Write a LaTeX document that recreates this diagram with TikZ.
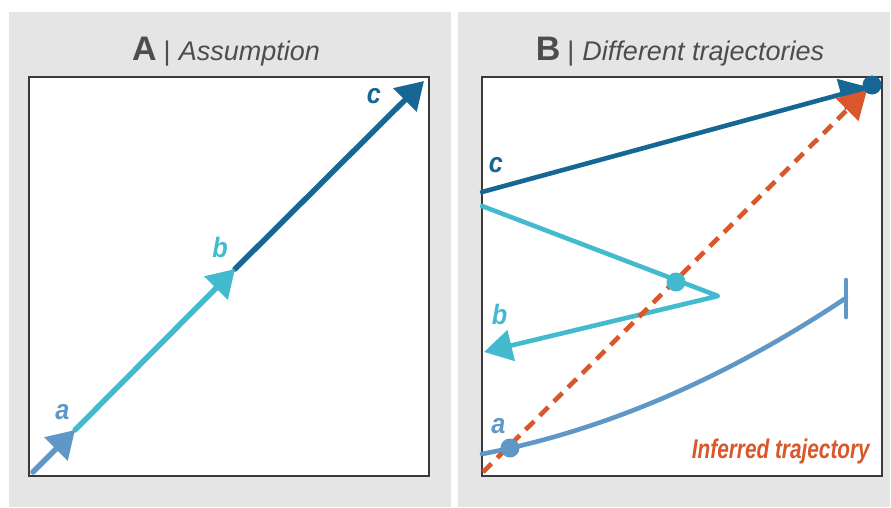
\documentclass[tikz,border=0pt]{standalone}
\usepackage{fontspec}
\setmainfont{Liberation Sans}
\newfontfamily\lblfont[FakeStretch=0.9]{Liberation Sans}
\newfontfamily\inffont[FakeStretch=0.77]{Liberation Sans}
\usetikzlibrary{arrows.meta}
\definecolor{ca}{HTML}{5F98C6}
\definecolor{cb}{HTML}{44BACF}
\definecolor{cc}{HTML}{166794}
\definecolor{cr}{HTML}{D9572A}
\definecolor{bgc}{HTML}{E5E5E5}
\definecolor{tt}{HTML}{4D4D4D}
\definecolor{framec}{HTML}{3A3A3A}
\begin{document}
\begin{tikzpicture}[x=1pt,y=-1pt,
  panelbox/.style={draw=framec,fill=white,line width=1.2pt},
  titletext/.style={anchor=base,text=tt,inner sep=0pt},
  lbl/.style={anchor=base,inner sep=0pt,font=\lblfont\bfseries\itshape\fontsize{28}{28}\selectfont},
  lineA/.style={line width=5.5pt,line cap=round},
  lineB/.style={line width=4.6pt,line cap=round,line join=round},
  tipA/.style={-{Triangle[length=27pt,width=32pt]}},
  tipB/.style={-{Triangle[length=28pt,width=31pt]}},
  dotstyle/.style={circle,inner sep=0pt,minimum size=19pt}
]
\useasboundingbox (0,0) rectangle (891,507);
\fill[white] (0,0) rectangle (891,507);
\fill[bgc] (9,12) rectangle (451,507);
\fill[bgc] (458,12) rectangle (890,507);
\draw[panelbox] (29,77) rectangle (429,476);
\draw[panelbox] (482,77) rectangle (882,476);

% titles
\node[titletext] (titleA) at (226,60) {{\bfseries\fontsize{34}{34}\selectfont A}\hspace{7pt}{\fontsize{27}{27}\selectfont |\hspace{8pt}\itshape Assumption}};
\node[titletext] (titleB) at (680,60) {{\bfseries\fontsize{34}{34}\selectfont B}\hspace{7pt}{\fontsize{27}{27}\selectfont |\hspace{8pt}\itshape Different trajectories}};

% panel A
\coordinate (a0) at (33,472);
\coordinate (a1) at (75,430);
\coordinate (b1) at (235,269);
\coordinate (c1) at (424,81);
\draw[lineA,cc,tipA] (b1) -- (c1);
\draw[lineA,cb,tipA] (a1) -- (b1);
\draw[lineA,ca,tipA] (a0) -- (a1);
\node[lbl,text=ca] (la) at (62.5,419) {a};
\node[lbl,text=cb] (lb) at (220,257) {b};
\node[lbl,text=cc] (lc) at (374,103) {c};

% panel B
\coordinate (as) at (482,454);
\coordinate (ae) at (846,298);
\coordinate (abt) at (846,280);
\coordinate (abb) at (846,317);
\draw[lineB,ca] (as) .. controls (603.3,430.9) and (724.7,378.9) .. (ae);
\draw[lineB,ca] (abt) -- (abb);

\coordinate (bs) at (482,206);
\coordinate (bt) at (718,296);
\coordinate (be) at (484,352);
\draw[lineB,cb,tipB] (bs) -- (bt) -- (be);

\coordinate (cs) at (482,192);
\coordinate (ce) at (868,87);
\draw[lineB,cc,tipB] (cs) -- (ce);

\coordinate (rs) at (483,472);
\coordinate (re) at (867,90);
\draw[line width=4.6pt,cr,dash pattern=on 12pt off 8pt,tipB] (rs) -- (re);

\node[dotstyle,fill=ca] (dota) at (510,448) {};
\node[dotstyle,fill=cb] (dotb) at (676,282) {};
\node[dotstyle,fill=cc] (dotc) at (872,85) {};

\node[lbl,text=cc] (lc2) at (496,172) {c};
\node[lbl,text=cb] (lb2) at (499.5,324) {b};
\node[lbl,text=ca] (la2) at (498.5,433) {a};
\node[anchor=base east,inner sep=0pt,text=cr,font=\inffont\bfseries\itshape\fontsize{27}{27}\selectfont] (inf) at (870,458) {Inferred trajectory};
\end{tikzpicture}
\end{document}
